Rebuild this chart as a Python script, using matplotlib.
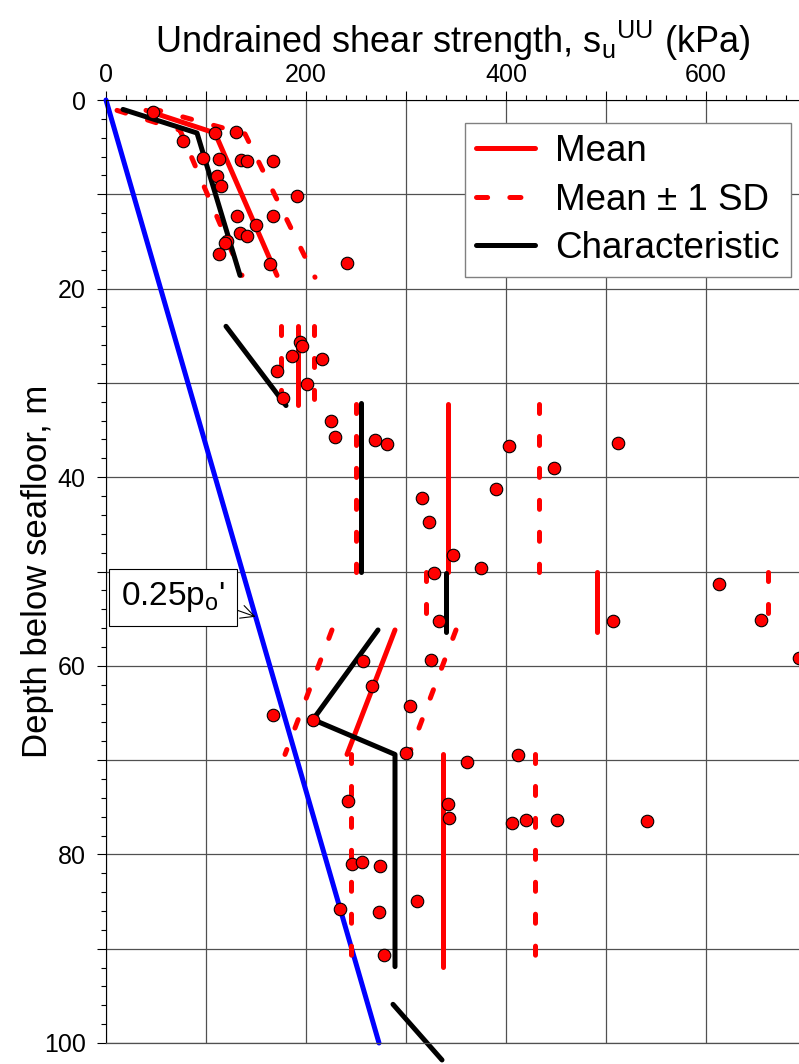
import numpy as np
import matplotlib
matplotlib.use("Agg")
import matplotlib.pyplot as plt
from matplotlib.lines import Line2D
from matplotlib.ticker import MultipleLocator, FuncFormatter

plt.rcParams['font.family'] = ['Liberation Sans', 'DejaVu Sans']
plt.rcParams['mathtext.default'] = 'regular'
plt.rcParams['lines.scale_dashes'] = False

# undrained shear strength (kPa) vs depth (m), one list per soil layer
mean_su = [[40, 109, 171], [192, 192], [342, 342], [491, 491], [289, 241], [337, 337]]
mean_z = [[1.1, 3.5, 18.6], [24.0, 32.3], [32.2, 50.0], [50.0, 56.4], [56.2, 69.4], [69.4, 91.9]]

minus_su = [[11, 74, 136], [175, 175], [250, 250], [320, 320], [226, 179], [245, 245]]
minus_z = [[1.1, 3.2, 18.6], [24.0, 32.1], [32.2, 50.0], [50.0, 56.4], [56.2, 69.4], [69.4, 91.9]]

plus_su = [[46, 139, 209], [208, 208], [433, 433], [662, 662], [350, 303], [429, 429]]
plus_z = [[0.9, 3.6, 18.8], [24.0, 32.1], [32.2, 50.0], [50.0, 56.4], [56.2, 69.4], [69.4, 91.9]]

char_su = [[17, 91, 134], [120, 180], [255, 255], [340, 340], [272, 207, 289, 289], [287, 336]]
char_z = [[1.0, 3.5, 18.6], [24.0, 32.4], [32.1, 50.0], [50.2, 56.4], [56.2, 65.7, 69.4, 91.9], [95.9, 101.8]]

# 0.25 p0' line
po_su = [0, 273]
po_z = [0, 100]

# UU test results
pt_su = [47, 109, 130, 77, 97, 113, 135, 141, 167, 111, 115, 191, 131, 167, 150, 134,
         141, 121, 119, 113, 164, 241,
         194, 196, 186, 216, 171, 201, 177,
         225, 229, 269, 281, 403, 512, 448, 390, 316, 323, 347, 375, 328, 333, 507,
         613, 655, 693,
         257, 325, 266, 304, 167, 207, 300, 361, 412, 242, 342, 343, 406, 420, 451,
         541, 246, 256, 274, 234, 273, 311, 278]
pt_z = [1.24, 3.46, 3.36, 4.4, 6.2, 6.3, 6.4, 6.5, 6.5, 8.1, 9.1, 10.2, 12.3, 12.3, 13.3, 14.1,
        14.4, 14.9, 15.2, 16.3, 17.4, 17.3,
        25.7, 26.1, 27.2, 27.5, 28.7, 30.1, 31.6,
        34.0, 35.7, 36.1, 36.5, 36.7, 36.4, 39.0, 41.2, 42.2, 44.7, 48.2, 49.6, 50.2, 55.2, 55.2,
        51.3, 55.1, 59.2,
        59.5, 59.4, 62.1, 64.3, 65.2, 65.7, 69.2, 70.2, 69.5, 74.3, 74.7, 76.1, 76.7, 76.3, 76.4,
        76.5, 81.0, 80.8, 81.2, 85.8, 86.1, 84.9, 90.7]

RED = '#ff0000'
LW = 3.6
DASH = (6.5, 16.5)

fig = plt.figure(figsize=(7.99, 10.64), dpi=100)
ax = fig.add_axes([106 / 799, 21 / 1064, 693 / 799, 943 / 1064])

ax.plot(po_su, po_z, color='#0000ff', lw=LW, solid_capstyle='round', clip_on=False, zorder=2)
for su, z in zip(minus_su, minus_z):
    ax.plot(su, z, color=RED, lw=LW, dashes=DASH, dash_capstyle='round', clip_on=False, zorder=2)
for su, z in zip(plus_su, plus_z):
    ax.plot(su, z, color=RED, lw=LW, dashes=DASH, dash_capstyle='round', clip_on=False, zorder=2)
for su, z in zip(mean_su, mean_z):
    ax.plot(su, z, color=RED, lw=LW, solid_capstyle='round', clip_on=False, zorder=2)
for su, z in zip(char_su, char_z):
    ax.plot(su, z, color='black', lw=LW, solid_capstyle='round', clip_on=False, zorder=2)

ax.plot(pt_su, pt_z, 'o', ms=9, mfc=RED, mec='black', mew=0.8, ls='none', clip_on=False, zorder=3)

ax.set_xlim(0, 693)
ax.set_ylim(100, 0)

ax.xaxis.tick_top()
ax.xaxis.set_label_position('top')
ax.xaxis.set_major_locator(MultipleLocator(100))
ax.xaxis.set_minor_locator(MultipleLocator(20))
ax.yaxis.set_major_locator(MultipleLocator(10))
ax.yaxis.set_minor_locator(MultipleLocator(2))
ax.xaxis.set_major_formatter(FuncFormatter(lambda v, p: f'{v:.0f}' if round(v) % 200 == 0 else ''))
ax.yaxis.set_major_formatter(FuncFormatter(lambda v, p: f'{v:.0f}' if round(v) % 20 == 0 else ''))
ax.tick_params(which='both', direction='out', width=0.8, labelsize=18)
ax.tick_params(which='major', length=6.5)
ax.tick_params(which='minor', length=3.6)
ax.tick_params(axis='x', which='both', top=True, bottom=False, pad=3)
ax.tick_params(axis='y', which='both', left=True, right=False, pad=8)

ax.set_axisbelow(True)
ax.grid(which='major', color='#505050', lw=0.9)
ax.spines['right'].set_visible(False)
ax.spines['bottom'].set_color('#505050')
ax.spines['bottom'].set_linewidth(0.9)

ax.set_xlabel('Undrained shear strength, s$_{u}{}^{UU}$ (kPa)', fontsize=26, labelpad=7)
ax.set_ylabel('Depth below seafloor, m', fontsize=25, labelpad=-7)

ax.annotate("0.25p$_{o}$'", xy=(np.interp(54.8, po_z, po_su), 54.8), xytext=(67, 52.75),
            ha='center', va='center', fontsize=24, zorder=5,
            bbox=dict(boxstyle='square,pad=0.35', fc='white', ec='black', lw=0.8),
            arrowprops=dict(arrowstyle='->,head_length=0.4,head_width=0.2', lw=0.8,
                            color='black', shrinkA=0, shrinkB=0, relpos=(1, 0.25)))

handles = [Line2D([], [], color=RED, lw=LW, solid_capstyle='round'),
           Line2D([], [], color=RED, lw=LW, dashes=(8, 16), dash_capstyle='round'),
           Line2D([], [], color='black', lw=LW, solid_capstyle='round')]
leg = ax.legend(handles, ['Mean', 'Mean \u00b1 1 SD', 'Characteristic'], loc='upper right',
                bbox_to_anchor=(0.9885, 0.9756), borderaxespad=0, fontsize=26.5,
                handlelength=1.6, handletextpad=0.55, labelspacing=0.37, borderpad=0.3,
                fancybox=False, edgecolor='#808080', framealpha=1)
leg.get_frame().set_linewidth(1)
leg.set_zorder(10)

fig.savefig('out.png', dpi=100)
